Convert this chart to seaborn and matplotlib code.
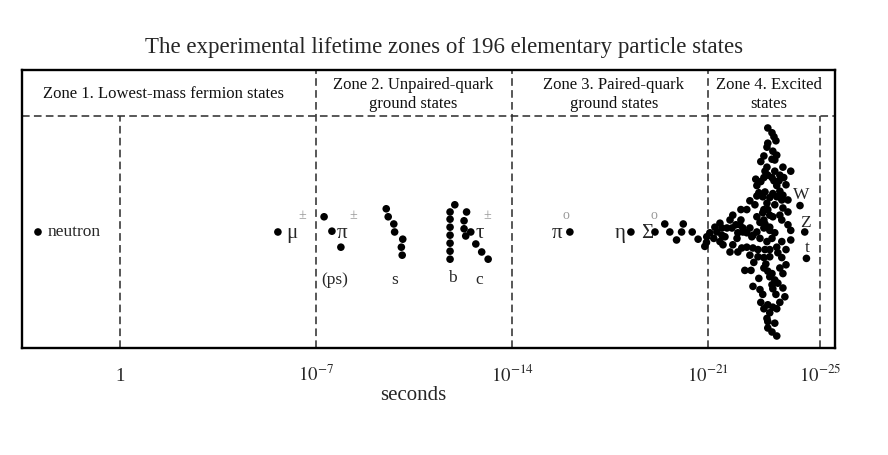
import matplotlib
matplotlib.use("Agg")
import matplotlib.pyplot as plt
import numpy as np
import pandas as pd
import seaborn as sns

# x: lifetime exponent (-log10 seconds), y: arbitrary vertical spread
NEUTRON_X, NEUTRON_Y = [-2.93], [0.0]
MUON_X, MUON_Y = [5.64], [0.0]

PS_X = [7.29, 7.57, 7.89]
PS_Y = [1.9, 0.1, -1.9]

S_X = [9.51, 9.58, 9.78, 9.81, 10.10, 10.05, 10.08]
S_Y = [2.9, 1.9, 1.0, 0.0, -0.9, -1.9, -2.9]

B_X = [11.96, 11.79, 11.79, 11.79, 11.79, 11.79, 11.79, 11.79]
B_Y = [3.4, 2.5, 1.6, 0.6, -0.4, -1.4, -2.4, -3.4]

C_X = [12.38, 12.29, 12.29, 12.35, 12.53, 12.71, 12.92, 13.15]
C_Y = [2.5, 1.4, 0.4, -0.5, 0.0, -1.5, -2.5, -3.4]

PI0_X, PI0_Y = [16.07], [0.0]
ETA_X, ETA_Y = [18.25], [0.0]
SIGMA0_X, SIGMA0_Y = [19.11], [0.0]

TAIL_X = [19.46, 19.64, 19.88, 20.12, 20.06, 20.44, 20.65, 20.95, 20.89, 21.07]
TAIL_Y = [1.0, 0.0, -1.0, 1.0, 0.0, 0.0, -0.9, -1.3, -1.8, -0.1]

CLUSTER_X = [
    23.14, 23.29, 23.36, 23.43, 23.14, 23.11, 23.32, 23.46, 23.29, 23.39,
    22.89, 23.11, 23.39, 23.68, 23.96, 23.04, 23.14, 23.57, 22.71, 23.00,
    22.89, 23.29, 23.36, 23.54, 23.46, 22.82, 23.04, 23.32, 23.57, 23.68,
    22.96, 23.21, 23.46, 23.64, 22.50, 23.11, 23.39, 23.00, 22.39, 23.68,
    23.57, 23.21, 22.75, 23.00, 23.64, 21.89, 22.18, 21.79, 21.86, 21.43,
    21.25, 20.96, 21.32, 21.50, 21.43, 21.61, 21.54, 21.79, 22.04, 21.89,
    22.07, 22.25, 22.39, 22.57, 22.50, 23.00, 23.21, 23.39, 23.29, 23.11,
    22.86, 22.39, 22.61, 22.79, 22.50, 23.21, 23.46, 23.50, 23.64, 23.86,
    23.96, 23.64, 22.32, 22.54, 23.00, 23.14, 23.29, 23.68, 23.57, 22.82,
    23.21, 23.39, 22.61, 23.29, 23.50, 23.68, 23.32, 22.96, 23.43, 23.75,
    22.89, 23.14, 23.32, 23.46, 23.00, 23.21, 23.11, 23.14, 23.39, 23.14,
    23.29, 23.46, 21.50, 22.14, 22.86, 22.96, 23.14, 23.32, 23.21, 22.61,
    22.25, 22.21, 22.79, 23.04, 23.21, 23.00, 23.79, 22.07, 22.68, 23.86,
    23.04, 22.75, 22.18, 23.79, 22.75, 23.86, 22.75, 23.96, 23.79, 23.07,
    22.64, 22.00, 21.68, 21.21, 22.86, 23.57, 23.00, 23.71,
]
CLUSTER_Y = [
    13.0, 12.4, 11.9, 11.4, 11.1, 10.6, 10.1, 9.6, 9.1, 9.0,
    8.8, 8.1, 7.6, 8.1, 7.6, 7.6, 7.1, 7.1, 6.6, 6.8,
    6.3, 6.8, 6.4, 6.4, 5.8, 4.9, 5.0, 4.8, 5.1, 4.6,
    4.4, 4.3, 4.4, 4.0, 3.9, 3.6, 3.4, 2.8, 2.8, 3.0,
    2.1, 2.1, 1.9, 1.5, 1.5, 2.1, 1.5, 1.5, 0.5, 1.1,
    0.6, -0.6, 0.0, -0.4, -1.2, -0.6, -1.6, -2.5, -0.8, -1.6,
    -0.1, 0.5, -0.1, -0.6, 0.5, 0.5, 0.2, -0.1, -0.8, -1.2,
    -0.8, -1.9, -2.0, -2.2, -2.9, -2.2, -1.9, -2.6, -3.2, 0.9,
    0.2, -1.2, -4.8, -4.8, -4.5, -4.9, -5.2, -5.2, -4.5, -5.8,
    -5.6, -6.0, -6.8, -6.6, -6.4, -7.0, -7.1, -7.8, -7.8, -8.1,
    -8.8, -9.1, -9.4, -9.6, -9.6, -10.1, -10.8, -11.2, -11.4, -12.0,
    -12.5, -13.0, 0.5, 0.9, 1.2, 2.4, 2.8, 1.9, 0.6, -0.4,
    0.0, -2.0, -3.1, -2.2, -3.1, -3.2, -4.1, -2.5, 3.4, 2.5,
    1.0, 0.0, 2.8, 5.9, 5.8, 4.0, 4.5, -1.0, -2.2, -4.0,
    -3.8, 0.9, 0.5, -0.8, -7.2, -8.8, 9.5, 6.8,
]

WZT_X = [24.29, 24.46, 24.52]
WZT_Y = [3.3, 0.0, -3.3]

ZONE_TITLES = [
    "Zone 1. Lowest-mass fermion states",
    "Zone 2. Unpaired-quark\nground states",
    "Zone 3. Paired-quark\nground states",
    "Zone 4. Excited\nstates",
]
ZONE_CENTERS = [1.55, 10.48, 17.64, 23.18]
TICKS = [0, 7, 14, 21, 25]
TICK_LABELS = ["1", r"$10^{-7}$", r"$10^{-14}$", r"$10^{-21}$", r"$10^{-25}$"]

sns.set_theme(style="white")
plt.rcParams["font.family"] = ["Liberation Serif", "DejaVu Serif"]
plt.rcParams["mathtext.fontset"] = "stix"

xs = (NEUTRON_X + MUON_X + PS_X + S_X + B_X + C_X + PI0_X + ETA_X
      + SIGMA0_X + TAIL_X + CLUSTER_X + WZT_X)
ys = (NEUTRON_Y + MUON_Y + PS_Y + S_Y + B_Y + C_Y + PI0_Y + ETA_Y
      + SIGMA0_Y + TAIL_Y + CLUSTER_Y + WZT_Y)
df = pd.DataFrame({"exponent": xs, "spread": ys})

fig = plt.figure(figsize=(8.88, 4.55), dpi=100)
ax = fig.add_axes([0.0248, 0.2352, 0.9155, 0.611])

sns.scatterplot(data=df, x="exponent", y="spread", ax=ax, color="black",
                s=30, edgecolor="none", legend=False, zorder=3)

ax.set_xlim(-3.5, 25.54)
ax.set_ylim(-14.5, 20.25)
header_y = 14.5
header_frac = (header_y + 14.5) / (20.25 + 14.5)

dash = dict(color="#2a2a2a", lw=1.1, dashes=(5, 2.8), zorder=1)
ax.axhline(header_y, **dash)
for xv in [7, 14, 21]:
    ax.axvline(xv, **dash)
for xv in [0, 25]:
    ax.axvline(xv, ymax=header_frac, **dash)

for spine in ax.spines.values():
    spine.set_color("black")
    spine.set_linewidth(1.7)

for title, cx in zip(ZONE_TITLES, ZONE_CENTERS):
    ax.text(cx, 17.2, title, ha="center", va="center", fontsize=12,
            linespacing=1.25, color="#111111")

ax.set_xticks(TICKS)
ax.set_xticklabels(TICK_LABELS, fontsize=13.5)
ax.tick_params(axis="x", length=0, pad=24)
for lab in ax.get_xticklabels():
    lab.set_va("baseline")
ax.set_yticks([])
ax.set_xlabel("")
ax.set_ylabel("")

# particle labels
ax.text(-2.57, 0.0, "neutron", fontsize=12.5, va="center", ha="left")


def greek(x, y, base, sup=None, sx=None):
    ax.text(x, y - 0.2, base, fontsize=15, va="center", ha="left")
    if sup is not None:
        ax.text(sx, 2.0, sup, fontsize=10, va="center", ha="left",
                color="#9a9a9a")


greek(5.93, 0.0, "\u03bc", "\u00b1", 6.36)
greek(7.75, 0.0, "\u03c0", "\u00b1", 8.2)
greek(12.71, 0.0, "\u03c4", "\u00b1", 12.98)
greek(15.43, 0.0, "\u03c0", "o", 15.8)
greek(17.68, 0.0, "\u03b7")
greek(18.63, 0.0, "\u03a3", "o", 18.95)

ax.text(24.32, 4.6, "W", fontsize=12.5, ha="center", va="center")
ax.text(24.48, 1.1, "Z", fontsize=12.5, ha="center", va="center")
ax.text(24.54, -2.0, "t", fontsize=12.5, ha="center", va="center")

for txt, lx, ly in [("(ps)", 7.68, -6.0), ("s", 9.82, -6.0),
                    ("b", 11.86, -5.8), ("c", 12.82, -6.0)]:
    ax.text(lx, ly, txt, fontsize=12.5, ha="center", va="center")

fig.text(0.5, 1 - 48 / 455,
         "The experimental lifetime zones of 196 elementary particle states",
         ha="center", va="center", fontsize=16.5)
fig.text(413 / 888, 1 - 396 / 455, "seconds", ha="center", va="center",
         fontsize=15)

fig.savefig("out.png", dpi=100, facecolor="white")
